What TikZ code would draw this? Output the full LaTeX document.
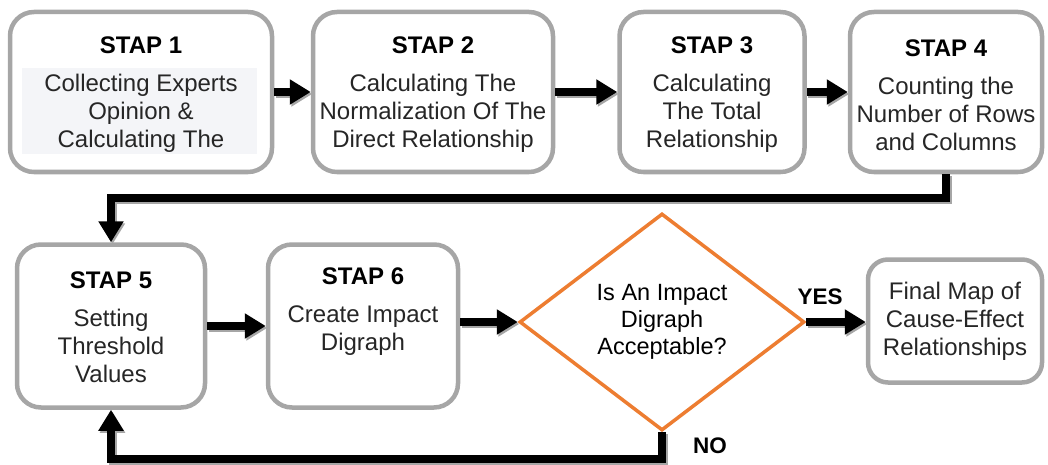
\documentclass[tikz,border=0pt]{standalone}
\usepackage{fontspec}
\setmainfont{Liberation Sans}
\usetikzlibrary{arrows.meta,shapes.geometric}
\definecolor{boxgray}{HTML}{A6A6A6}
\definecolor{dorange}{HTML}{ED7D31}
\definecolor{txtgray}{HTML}{262626}
\definecolor{bgpale}{HTML}{F4F5F8}
\newcommand\flowconns{%
  \draw[conn] (b1) -- (b2);
  \draw[conn] (b2) -- (b3);
  \draw[conn] (b3) -- (b4);
  \draw[conn] (b4.south) -- (b4.south |- 0,198) -| (b5.north);
  \draw[conn] (b5) -- (b6);
  \draw[conn] (b6.east |- d.west) -- (d.west);
  \draw[conn] (d.east) -- (d.east -| fin.west);
  \draw[conn] (d.south) -- (d.south |- 0,459) -| (b5.south);
}
\begin{document}
\begin{tikzpicture}[x=1pt,y=-1pt,
  stepbox/.style={draw=boxgray, line width=4.5pt, rounded corners=24pt, fill=white,
    align=center, inner sep=0pt, font=\fontsize{24}{28}\selectfont, text=txtgray},
  steptext/.style={align=center, inner sep=0pt, font=\fontsize{24}{28}\selectfont, text=txtgray},
  decision/.style={diamond, draw=dorange, line width=3.5pt, fill=white, aspect=1.31,
    minimum width=285pt, minimum height=217pt, inner sep=0pt, align=center,
    font=\fontsize{23.5}{27}\selectfont, text=black},
  conn/.style={line width=8pt, -{Triangle[width=24pt,length=21pt]}},
  lbl/.style={font=\fontsize{22.5}{26}\selectfont\bfseries, inner sep=0pt}
]
\useasboundingbox (0,0) rectangle (1048,465);
\newcommand\ttl[1]{{\color{black}\bfseries #1}}

\node[stepbox, minimum width=262pt, minimum height=160pt] (b1) at (141,92) {};
\fill[bgpale] (22,68) rectangle (257,154);
\node[steptext] (t1) at (141,95) {\ttl{STAP 1}\\[10pt]Collecting Experts\\Opinion \&\\Calculating The};

\node[stepbox, minimum width=240pt, minimum height=160pt] (b2) at (433,92) {};
\node[steptext] (t2) at (433,95) {\ttl{STAP 2}\\[10pt]Calculating The\\Normalization Of The\\Direct Relationship};
\node[stepbox, minimum width=185pt, minimum height=160pt] (b3) at (712,92) {};
\node[steptext] (t3) at (712,95) {\ttl{STAP 3}\\[10pt]Calculating\\The Total\\Relationship};
\node[stepbox, minimum width=192pt, minimum height=160pt] (b4) at (946,92) {};
\node[steptext] (t4) at (946,95) {\ttl{STAP 4}\\[10pt]Counting the\\Number of Rows\\and Columns};

\node[stepbox, minimum width=188pt, minimum height=163pt] (b5) at (111,326) {};
\node[steptext] (t5) at (111,327) {\ttl{STAP 5}\\[10pt]Setting\\Threshold\\Values};
\node[stepbox, minimum width=190pt, minimum height=163pt] (b6) at (363,326) {};
\node[steptext] (t6) at (363,327) {\ttl{STAP 6}\\[10pt]Create Impact\\Digraph\\\strut};

\node[decision] (d) at (662,322) {Is An Impact\\Digraph\\Acceptable?};

\node[stepbox, minimum width=174pt, minimum height=123pt, rounded corners=20pt] (fin) at (955,321)
  {Final Map of\\Cause-Effect\\Relationships};

\begin{scope}[transform canvas={shift={(1.5pt,-2pt)}}, black!35]
  \flowconns
\end{scope}
\flowconns

\node[lbl] (yes) at (820,297) {YES};
\node[lbl] (no) at (710,446) {NO};
\end{tikzpicture}
\end{document}
